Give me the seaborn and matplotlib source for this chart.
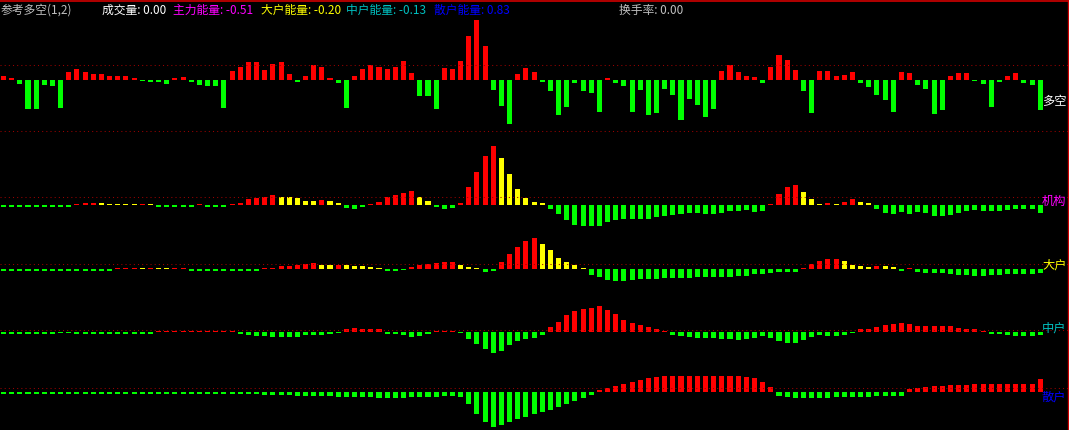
import numpy as np
import pandas as pd
import seaborn as sns
import matplotlib
matplotlib.use("Agg")
import matplotlib.pyplot as plt
from matplotlib.lines import Line2D

# ---- data (bar heights) ----
n_bars = 128
bars = list(range(n_bars))

duokong = [4, 2, -4, -29, -29, -5, -6, -28, 8, 11, 8, 6, 6, 4, 4, 4, 2, -1, -2, -2,
           -4, 2, 3, -2, -5, -6, -6, -28, 9, 13, 18, 18, 10, 16, 18, 6, -2, 4, 15, 13,
           2, -3, -28, 4, 11, 15, 13, 11, 13, 19, 7, -16, -16, -29, 12, 11, 19, 44, 60, 34,
           -10, -26, -44, 6, 12, 8, -2, -11, -35, -27, -3, -11, -13, -32, 2, -3, -6, -32, -10, -35,
           -33, -9, -15, -40, -19, -25, -37, -29, 9, 15, 8, 4, 3, -3, 13, 25, 20, 10, -11, -33,
           9, 9, 4, 5, 8, -3, -7, -15, -20, -32, 8, 7, -5, -9, -34, -30, 4, 7, 7, -1,
           -4, -27, -2, 4, 7, -3, -5, -30]

jigou = [-2, -2, -2, -2, -2, -2, -2, -2, -2, 1, 2, 2, 2, 1, 1, 1, 1, 1, 1, -2,
         -2, -2, -2, -2, 1, -2, -2, -2, 1, 2, 6, 7, 8, 10, 8, 8, 7, 4, 4, 5,
         4, 2, -3, -4, -2, 1, 3, 8, 10, 12, 14, 8, 4, -2, -4, -3, 2, 18, 33, 49,
         59, 47, 31, 16, 7, 3, 2, -4, -9, -15, -20, -21, -21, -21, -17, -15, -14, -14, -14, -14,
         -12, -11, -10, -9, -8, -8, -9, -9, -8, -6, -6, -5, -7, -6, 1, 11, 18, 20, 13, 6,
         1, 2, 1, 3, 6, 3, 2, -4, -8, -9, -7, -9, -7, -8, -11, -11, -10, -8, -6, -5,
         -6, -6, -6, -5, -4, -4, -4, -8]
jigou_col = list("gggggggggrrryyyyyryggggg" "rgggrrrrrryyyyyryygg"
                 "grrrrrryygggrrrrryyyyyy" "ggggggggggggggggggggggggggg"
                 "rrrryyyryrryy" "ggggggggggggggggggggg")

dahu = [-2, -2, -2, -2, -2, -2, -2, -2, -2, -2, -2, -2, -2, -2, 1, 1, 1, 1, 1, 1,
        1, 1, 1, -2, -2, -2, -2, -2, -2, -2, -2, -2, 1, 1, 3, 3, 4, 5, 6, 4,
        4, 4, 4, 3, 3, 2, 1, -2, -2, -1, 2, 4, 5, 6, 7, 7, 4, 2, 1, -3,
        -2, 7, 15, 22, 28, 31, 25, 19, 11, 7, 4, 1, -6, -8, -11, -12, -12, -11, -10, -10,
        -10, -9, -9, -9, -9, -8, -8, -8, -8, -8, -7, -7, -5, -5, -4, -3, -3, -3, 1, 5,
        8, 10, 10, 8, 4, 3, 2, 3, 3, 2, -2, 1, -3, -4, -4, -4, -5, -6, -6, -7,
        -7, -6, -6, -5, -5, -5, -5, -4]
dahu_col = list("gggggggggggggg" "rrryryyrr" "ggggggggg" "rr" "rrrrryyryyyyy" "ggg"
                "rrrrrryyy" "gg" "rrrrryyyyyy" "gggggggggggggggggggggggggg"
                "rrrrryyyyryy" "gr" "gggggggggggggggg")

zhonghu = [-2, -2, -2, -2, -2, -2, -2, -1, -1, -2, -2, -2, -2, -2, -2, -2, -2, -2, -2, 1,
           1, 1, 1, 1, 1, 1, 1, 1, 1, -2, -3, -4, -4, -5, -5, -5, -5, -3, -3, -3,
           -2, -1, 3, 4, 3, 3, 3, -2, -2, -3, -5, -4, -2, 1, 1, 1, -1, -7, -12, -17,
           -21, -19, -13, -9, -7, -6, -3, 5, 10, 17, 21, 23, 24, 26, 22, 18, 12, 9, 7, 5,
           3, 1, -3, -4, -5, -6, -6, -6, -7, -7, -8, -7, -6, -4, -6, -9, -11, -11, -8, -5,
           -3, -4, -4, -3, -1, 3, 3, 5, 7, 8, 9, 8, 6, 6, 6, 6, 6, 4, 3, 3,
           1, -2, -2, -3, -4, -4, -4, -3]

sanhu = [-2, -2, -2, -2, -2, -2, -2, -2, -2, -2, -2, -2, -2, -2, -2, -2, -2, -2, -2, -2,
         -2, -2, -2, -2, -2, -2, -2, -2, -2, -2, -2, -2, -3, -3, -3, -3, -4, -4, -4, -4,
         -4, -5, -5, -5, -5, -5, -6, -6, -6, -6, -5, -5, -5, -5, -4, -4, -5, -12, -22, -30,
         -35, -33, -30, -27, -25, -22, -20, -18, -15, -12, -9, -6, -3, 2, 4, 6, 8, 10, 12, 14,
         15, 16, 16, 16, 16, 16, 16, 16, 16, 16, 16, 15, 14, 10, 5, -4, -5, -6, -6, -6,
         -6, -6, -5, -5, -5, -5, -5, -4, -4, -4, -4, 3, 4, 5, 6, 6, 7, 7, 7, 8,
         8, 8, 8, 8, 8, 8, 8, 13]

palette = {"r": "#FF0000", "g": "#00FF00", "y": "#FFFF00"}

# pixel row of each panel's zero line, and the dotted guide lines
zero_rows = [79.5, 204.7, 268.5, 331.5, 391.5]
guide_rows = [[65, 131], [197], [263.5], [329.5], [388]]

labels = ["多空", "机构", "大户", "中户", "散户"]
label_colors = ["#FFFFFF", "#FF00FF", "#FFFF00", "#00C0C0", "#0000FF"]
label_rows = [101, 201, 265, 328, 397]

header = [("参考多空(1,2)", 1, "#C0C0C0"), ("成交量: 0.00", 102, "#FFFFFF"),
          ("主力能量: -0.51", 173, "#FF00FF"), ("大户能量: -0.20", 261, "#FFFF00"),
          ("中户能量: -0.13", 346, "#00C0C0"), ("散户能量: 0.83", 434, "#0000FF"),
          ("换手率: 0.00", 619, "#C0C0C0")]

W, H = 1069, 430
fig = plt.figure(figsize=(W / 100, H / 100), dpi=100)
fig.patch.set_facecolor("black")
plt.rcParams["font.family"] = ["Noto Sans CJK SC", "DejaVu Sans"]

series = [
    (duokong, ["r" if v > 0 else "g" for v in duokong]),
    (jigou, jigou_col),
    (dahu, dahu_col),
    (zhonghu, ["r" if v > 0 else "g" for v in zhonghu]),
    (sanhu, ["r" if v > 0 else "g" for v in sanhu]),
]

pitch = 8.163
for k, (vals, cols) in enumerate(series):
    df = pd.DataFrame({"bar": bars, "val": vals, "col": cols[:n_bars]})
    ax = fig.add_axes([0, 0, 1, 1])
    ax.set_facecolor("none")
    sns.barplot(data=df, x="bar", y="val", hue="col", palette=palette, dodge=False,
                width=0.62, saturation=1, linewidth=0, legend=False, ax=ax)
    z = zero_rows[k]
    for g in guide_rows[k]:
        ax.axhline(z - g, color="#9A0000", lw=0.75, ls=(0, (1, 3)))
    ax.set_xlim(-3.5 / pitch, -3.5 / pitch + W / pitch)
    ax.set_ylim(z - H, z)
    ax.axis("off")
    fig.text(1042 / W, 1 - label_rows[k] / H, labels[k], color=label_colors[k],
             fontsize=8.8, va="center", ha="left")

for txt, x, c in header:
    fig.text(x / W, 1 - 10 / H, txt, color=c, fontsize=8.5, va="center", ha="left")

fig.add_artist(Line2D([0, 1], [1 - 0.5 / H, 1 - 0.5 / H], color="#D00000", lw=1.2))
fig.add_artist(Line2D([1067.5 / W, 1067.5 / W], [0, 1], color="#D00000", lw=1.0))

fig.savefig("out.png", dpi=100, facecolor="black")
